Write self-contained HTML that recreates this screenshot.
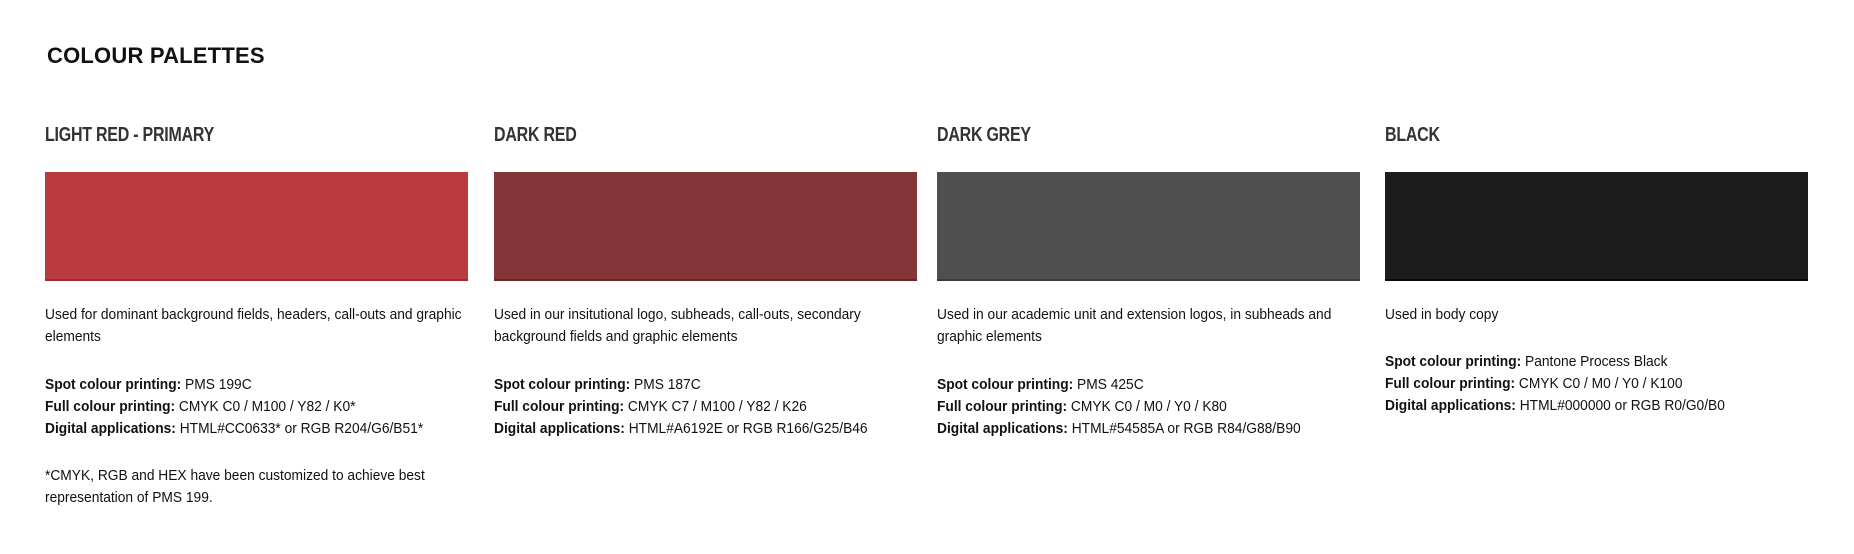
<!DOCTYPE html>
<html><head><meta charset="utf-8"><style>
html,body{margin:0;padding:0;background:#fff;width:1854px;height:554px;overflow:hidden;position:relative}
body{font-family:"Liberation Sans Narrow","Liberation Sans",sans-serif;color:#111}
.t{position:absolute;left:47px;top:43px;font-family:"Liberation Sans",sans-serif;font-weight:bold;font-size:22px;letter-spacing:0.2px;color:#111}
.col{position:absolute;top:0;width:430px}
.h{position:absolute;top:124px;left:0;font-weight:bold;font-size:20px;color:#333;white-space:nowrap;letter-spacing:-0.3px;transform:scaleX(0.8);transform-origin:0 0}
.sw{position:absolute;top:172px;left:0;width:423px;height:107px}
.p{position:absolute;left:0;font-size:14.5px;line-height:22px;white-space:nowrap;color:#111;transform:scaleX(0.95);transform-origin:0 0}
.p b{font-weight:bold}
</style></head><body>
<div class="t">COLOUR PALETTES</div>

<div class="col" style="left:45px">
<div class="h">LIGHT RED - PRIMARY</div>
<div class="sw" style="background:#b93b40;border-bottom:2px solid #a8282e"></div>
<div class="p" style="top:304px">Used for dominant background fields, headers, call-outs and graphic<br>elements</div>
<div class="p" style="top:374px"><b>Spot colour printing:</b> PMS 199C<br><b>Full colour printing:</b> CMYK C0 / M100 / Y82 / K0*<br><b>Digital applications:</b> HTML#CC0633* or RGB R204/G6/B51*</div>
<div class="p" style="top:465px">*CMYK, RGB and HEX have been customized to achieve best<br>representation of PMS 199.</div>
</div>

<div class="col" style="left:494px">
<div class="h">DARK RED</div>
<div class="sw" style="background:#843537;border-bottom:2px solid #6e2427"></div>
<div class="p" style="top:304px">Used in our insitutional logo, subheads, call-outs, secondary<br>background fields and graphic elements</div>
<div class="p" style="top:374px"><b>Spot colour printing:</b> PMS 187C<br><b>Full colour printing:</b> CMYK C7 / M100 / Y82 / K26<br><b>Digital applications:</b> HTML#A6192E or RGB R166/G25/B46</div>
</div>

<div class="col" style="left:937px">
<div class="h">DARK GREY</div>
<div class="sw" style="background:#4f4f4f;border-bottom:2px solid #3c3c3c"></div>
<div class="p" style="top:304px">Used in our academic unit and extension logos, in subheads and<br>graphic elements</div>
<div class="p" style="top:374px"><b>Spot colour printing:</b> PMS 425C<br><b>Full colour printing:</b> CMYK C0 / M0 / Y0 / K80<br><b>Digital applications:</b> HTML#54585A or RGB R84/G88/B90</div>
</div>

<div class="col" style="left:1385px">
<div class="h">BLACK</div>
<div class="sw" style="background:#1c1c1c;border-bottom:2px solid #0a0a0a"></div>
<div class="p" style="top:304px">Used in body copy</div>
<div class="p" style="top:351px"><b>Spot colour printing:</b> Pantone Process Black<br><b>Full colour printing:</b> CMYK C0 / M0 / Y0 / K100<br><b>Digital applications:</b> HTML#000000 or RGB R0/G0/B0</div>
</div>
</body></html>
